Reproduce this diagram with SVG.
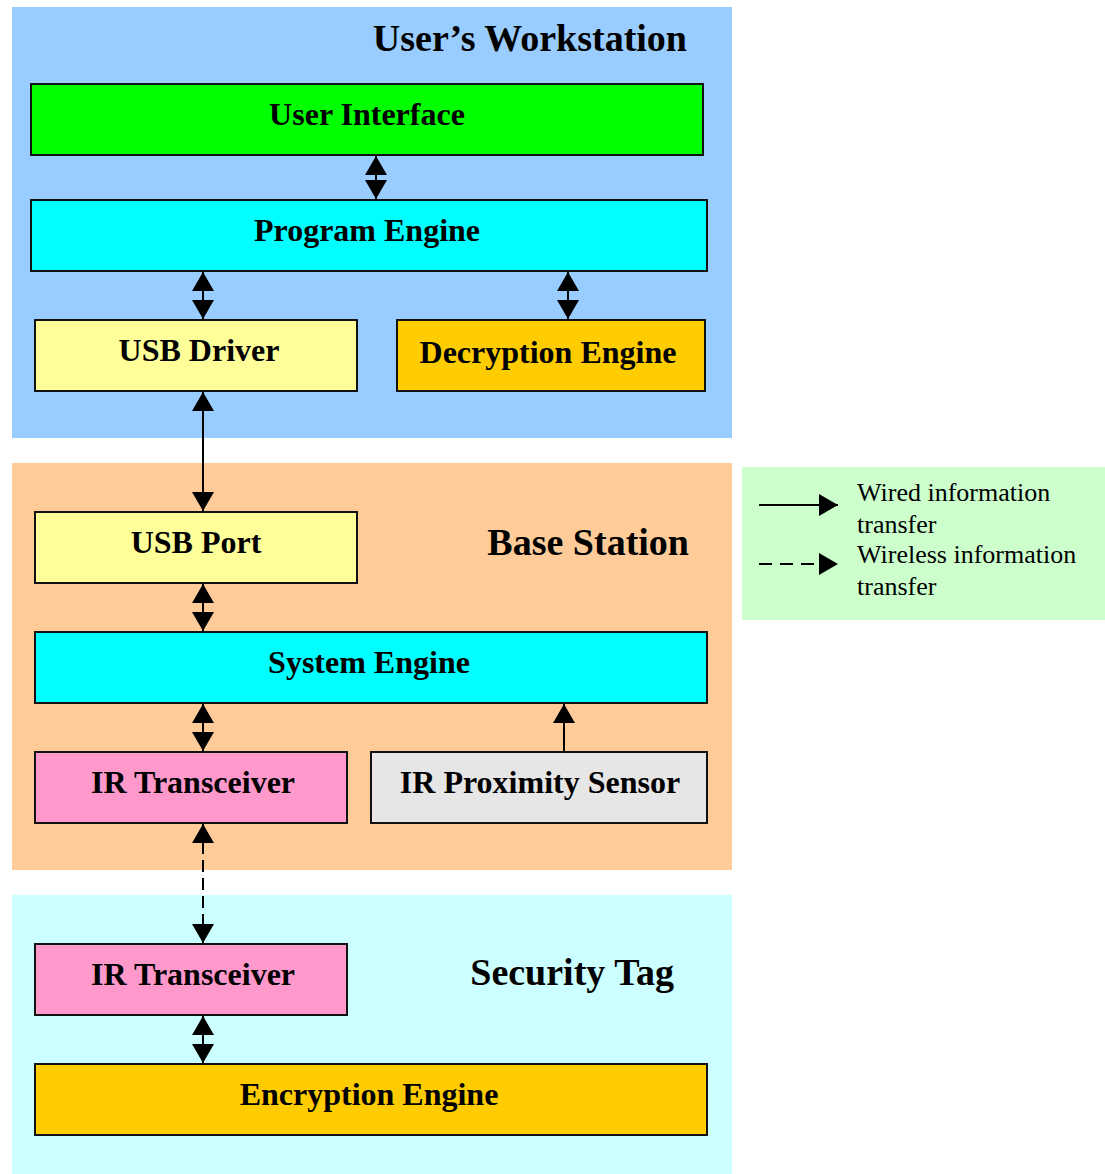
<svg xmlns="http://www.w3.org/2000/svg" width="1105" height="1174" viewBox="0 0 1105 1174">
<defs>
<style>
.box{stroke:#111;stroke-width:2}
.lbl{font-family:"Liberation Serif","Times New Roman",serif;font-weight:bold;font-size:32px;fill:#000;text-anchor:middle}
.ttl{font-family:"Liberation Serif","Times New Roman",serif;font-weight:bold;font-size:38px;fill:#000;text-anchor:end}
.leg{font-family:"Liberation Serif","Times New Roman",serif;font-size:26px;fill:#000}
.con{stroke:#000;stroke-width:2;fill:none}
.dash{stroke-dasharray:12 6}
</style>
<marker id="ah" markerUnits="userSpaceOnUse" markerWidth="19" markerHeight="22" refX="19" refY="11" orient="auto-start-reverse" viewBox="0 0 19 22">
<path d="M0,0 L19,11 L0,22 z" fill="#000"/>
</marker>
</defs>

<g id="regions">
<rect x="12" y="7" width="720" height="431" fill="#99CCFF"/>
<rect x="12" y="463" width="720" height="407" fill="#FFCC99"/>
<rect x="12" y="895" width="720" height="279" fill="#CCFFFF"/>
<text class="ttl" x="687" y="51">User’s Workstation</text>
<text class="ttl" x="689" y="555">Base Station</text>
<text class="ttl" x="674" y="985">Security Tag</text>
</g>

<g id="user-interface"><rect class="box" x="31" y="84" width="672" height="71" fill="#00FF00"/><text class="lbl" x="367" y="125">User Interface</text></g>
<g id="program-engine"><rect class="box" x="31" y="200" width="676" height="71" fill="#00FFFF"/><text class="lbl" x="367" y="241">Program Engine</text></g>
<g id="usb-driver"><rect class="box" x="35" y="320" width="322" height="71" fill="#FFFF99"/><text class="lbl" x="199" y="361">USB Driver</text></g>
<g id="decryption-engine"><rect class="box" x="397" y="320" width="308" height="71" fill="#FFCC00"/><text class="lbl" x="548" y="363">Decryption Engine</text></g>
<g id="usb-port"><rect class="box" x="35" y="512" width="322" height="71" fill="#FFFF99"/><text class="lbl" x="196" y="553">USB Port</text></g>
<g id="system-engine"><rect class="box" x="35" y="632" width="672" height="71" fill="#00FFFF"/><text class="lbl" x="369" y="673">System Engine</text></g>
<g id="ir-transceiver-base"><rect class="box" x="35" y="752" width="312" height="71" fill="#FF99CC"/><text class="lbl" x="193" y="793">IR Transceiver</text></g>
<g id="ir-proximity-sensor"><rect class="box" x="371" y="752" width="336" height="71" fill="#E6E6E6"/><text class="lbl" x="540" y="793">IR Proximity Sensor</text></g>
<g id="ir-transceiver-tag"><rect class="box" x="35" y="944" width="312" height="71" fill="#FF99CC"/><text class="lbl" x="193" y="985">IR Transceiver</text></g>
<g id="encryption-engine"><rect class="box" x="35" y="1064" width="672" height="71" fill="#FFCC00"/><text class="lbl" x="369" y="1105">Encryption Engine</text></g>

<g id="connectors">
<line class="con" x1="376" y1="156" x2="376" y2="199" marker-start="url(#ah)" marker-end="url(#ah)"/>
<line class="con" x1="203" y1="272" x2="203" y2="319" marker-start="url(#ah)" marker-end="url(#ah)"/>
<line class="con" x1="568" y1="272" x2="568" y2="319" marker-start="url(#ah)" marker-end="url(#ah)"/>
<line class="con" x1="203" y1="392" x2="203" y2="511" marker-start="url(#ah)" marker-end="url(#ah)"/>
<line class="con" x1="203" y1="584" x2="203" y2="631" marker-start="url(#ah)" marker-end="url(#ah)"/>
<line class="con" x1="203" y1="704" x2="203" y2="751" marker-start="url(#ah)" marker-end="url(#ah)"/>
<line class="con" x1="564" y1="751" x2="564" y2="704" marker-end="url(#ah)"/>
<line class="con dash" x1="203" y1="824" x2="203" y2="943" marker-start="url(#ah)" marker-end="url(#ah)"/>
<line class="con" x1="203" y1="1016" x2="203" y2="1063" marker-start="url(#ah)" marker-end="url(#ah)"/>
</g>

<g id="legend">
<rect x="742" y="467" width="363" height="153" fill="#CCFFCC"/>
<line class="con" x1="759" y1="505" x2="838" y2="505" marker-end="url(#ah)"/>
<line class="con" x1="759" y1="564" x2="838" y2="564" stroke-dasharray="13 8" marker-end="url(#ah)"/>
<text class="leg" x="857" y="501">Wired information</text>
<text class="leg" x="857" y="533">transfer</text>
<text class="leg" x="857" y="563">Wireless information</text>
<text class="leg" x="857" y="595">transfer</text>
</g>
</svg>
